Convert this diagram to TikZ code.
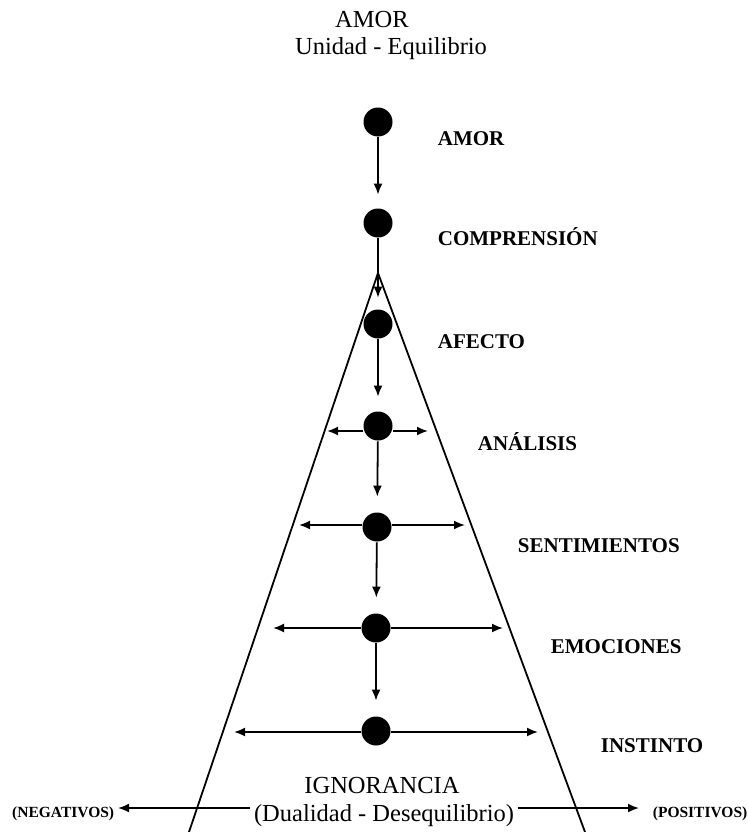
\documentclass[tikz,border=0pt]{standalone}
\usepackage{fontspec}
\setmainfont{Liberation Serif}
\usetikzlibrary{arrows.meta}

\begin{document}
\begin{tikzpicture}[x=1pt,y=-1pt,>={Latex[length=11pt,width=9pt]},line width=1.8pt,
dot/.style={circle,fill=black,inner sep=0pt,minimum size=29pt},
level/.style={anchor=base west,inner sep=0pt,font=\fontsize{21}{24}\selectfont\bfseries},
title/.style={anchor=base,inner sep=0pt,font=\fontsize{24.5}{29}\selectfont},
side/.style={inner sep=0pt,font=\fontsize{15.5}{18}\selectfont\bfseries}]
\useasboundingbox (0,0) rectangle (747,832);
\draw (189,832) -- (378,273) -- (585,832);
\node[title] (top) at (372,28) {AMOR};
\node[title] (topsub) at (391,55) {Unidad - Equilibrio};
\node[title] (bot) at (382,793) {IGNORANCIA};
\node[title,inner xsep=3pt] (dual) at (384,821) {(Dualidad - Desequilibrio)};
\node[dot] (amor) at (378,122) {};
\node[dot] (compr) at (378,223) {};
\node[dot] (afecto) at (378,324) {};
\node[dot] (anal) at (378,426) {};
\node[dot] (senti) at (377,527) {};
\node[dot] (emoc) at (376,628) {};
\node[dot] (inst) at (376,731) {};
\node[level] (l1) at (437,146) {AMOR};
\node[level] (l2) at (437,245) {COMPRENSIÓN};
\node[level] (l3) at (437,348) {AFECTO};
\node[level] (l4) at (477,450) {ANÁLISIS};
\node[level] (l5) at (517,552) {SENTIMIENTOS};
\node[level] (l6) at (550,653) {EMOCIONES};
\node[level] (l7) at (600,752) {INSTINTO};
\node[side,anchor=base east] (neg) at (115,817) {(NEGATIVOS)};
\node[side,anchor=base west] (pos) at (652,817) {(POSITIVOS)};
\coordinate (analL) at (327,431);
\coordinate (analR) at (428,431);
\coordinate (sentiL) at (299,525);
\coordinate (sentiR) at (465,525);
\coordinate (emocL) at (273,628);
\coordinate (emocR) at (503,628);
\coordinate (instL) at (234,732);
\coordinate (instR) at (538,732);
\coordinate (negL) at (118,808);
\coordinate (posR) at (639,808);
\draw[->,shorten >=13pt] (amor) -- (compr);
\draw[->,shorten >=11pt] (compr) -- (afecto);
\draw[->,shorten >=14pt] (afecto) -- (anal);
\draw[->,shorten >=15pt] (anal) -- (senti);
\draw[->,shorten >=15pt] (senti) -- (emoc);
\draw[->,shorten >=15pt] (emoc) -- (inst);
\draw[->] (analL -| anal.west) -- (analL);
\draw[->] (analR -| anal.east) -- (analR);
\draw[->] (sentiL -| senti.west) -- (sentiL);
\draw[->] (sentiR -| senti.east) -- (sentiR);
\draw[->] (emocL -| emoc.west) -- (emocL);
\draw[->] (emocR -| emoc.east) -- (emocR);
\draw[->] (instL -| inst.west) -- (instL);
\draw[->] (instR -| inst.east) -- (instR);
\draw[->] (negL -| dual.west) -- (negL);
\draw[->] (posR -| dual.east) -- (posR);
\end{tikzpicture}
\end{document}
